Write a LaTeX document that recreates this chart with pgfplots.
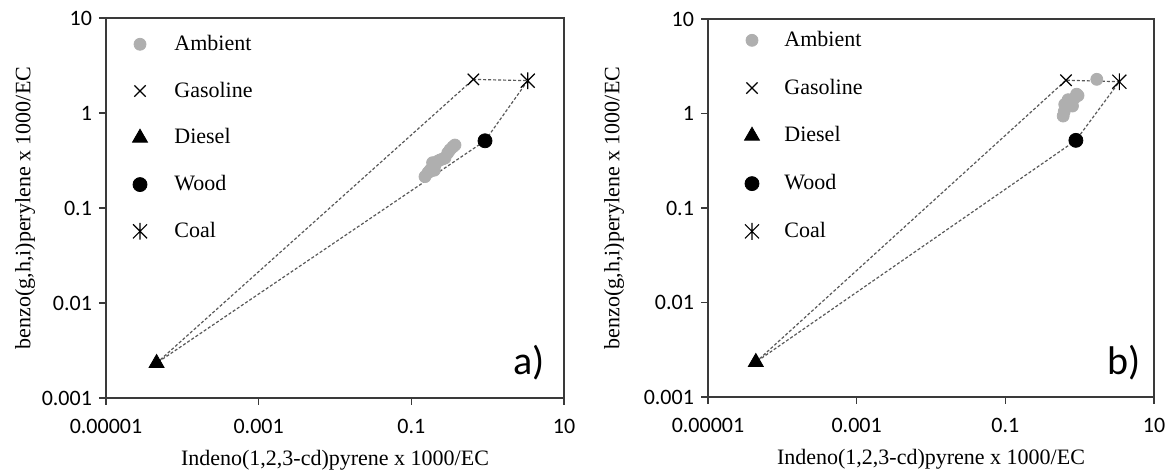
\documentclass[border=0pt]{standalone}
\usepackage{fontspec}
\setmainfont{Liberation Serif}
\newfontfamily\calib{Carlito}
\usepackage{pgfplots}
\pgfplotsset{compat=1.18}

% coal marker: an x with a vertical bar through it
\pgfdeclareplotmark{coalx}{%
  \pgfpathmoveto{\pgfqpoint{-\pgfplotmarksize}{-\pgfplotmarksize}}%
  \pgfpathlineto{\pgfqpoint{\pgfplotmarksize}{\pgfplotmarksize}}%
  \pgfpathmoveto{\pgfqpoint{-\pgfplotmarksize}{\pgfplotmarksize}}%
  \pgfpathlineto{\pgfqpoint{\pgfplotmarksize}{-\pgfplotmarksize}}%
  \pgfpathmoveto{\pgfqpoint{0pt}{-1.2\pgfplotmarksize}}%
  \pgfpathlineto{\pgfqpoint{0pt}{1.2\pgfplotmarksize}}%
  \pgfusepathqstroke}

\definecolor{ambgray}{HTML}{AFAFAF}
\definecolor{framegray}{HTML}{3A3A3A}

\begin{document}
\begin{tikzpicture}
\useasboundingbox (-53pt,-36.5pt) rectangle (531pt,199pt);

% panel a
\begin{axis}[
  xmode=log, ymode=log, scale only axis,
  width=229pt, height=190pt, at={(0pt,0pt)}, anchor=south west,
  xmin=1e-5, xmax=10, ymin=1e-3, ymax=10,
  xtick={1e-5,1e-3,1e-1,10}, xticklabels={0.00001,0.001,0.1,10},
  ytick={1e-3,1e-2,1e-1,1,10}, yticklabels={0.001,0.01,0.1,1,10},
  xminorticks=false, yminorticks=false,
  tick align=outside, major tick length=3.5pt, tick pos=left,
  axis line style={framegray, line width=0.8pt},
  major tick style={framegray, line width=0.8pt},
  tick label style={font=\calib\fontsize{11}{13}\selectfont},
  xticklabel style={yshift=-3.5pt},
  xlabel style={font=\fontsize{11}{13}\selectfont, yshift=-1.5pt},
  ylabel style={font=\fontsize{11}{13}\selectfont, yshift=-3.5pt},
  xlabel={Indeno(1,2,3-cd)pyrene x 1000/EC},
  ylabel={benzo(g,h,i)perylene x 1000/EC},
  legend style={draw=none, fill=none, at={(0.0376,0.977)},
    anchor=north west, font=\fontsize{11}{13}\selectfont, row sep=10.25pt},
  legend image code/.code={\path (-5pt,0pt) (15pt,0pt); \draw[#1] plot coordinates {(0pt,0pt)};},
  legend cell align=left,
  clip=false,
]
\addplot[black!65, line width=0.6pt, dash pattern=on 1.5pt off 1pt, forget plot] coordinates {(4.6e-5,2.33e-3) (0.649,2.26) (3.35,2.19) (0.923,0.51) (4.6e-5,2.33e-3)};
\addplot[only marks, mark=*, mark size=3pt, ambgray] coordinates {
(0.151,0.214) (0.165,0.235) (0.176,0.25) (0.19,0.27) (0.204,0.282) (0.19,0.30)
(0.2,0.25) (0.22,0.31) (0.237,0.32) (0.26,0.33) (0.276,0.336) (0.30,0.38)
(0.321,0.41) (0.35,0.44) (0.373,0.46)};
\addlegendentry{Ambient}
\addplot[only marks, mark=x, mark size=4pt, black, mark options={line width=0.6pt}] coordinates {(0.649,2.26)};
\addlegendentry{Gasoline}
\addplot[only marks, mark=triangle*, mark size=4.3pt, black] coordinates {(4.6e-5,2.33e-3)};
\addlegendentry{Diesel}
\addplot[only marks, mark=*, mark size=3.5pt, black] coordinates {(0.923,0.51)};
\addlegendentry{Wood}
\addplot[only marks, mark=coalx, mark size=3.5pt, black, mark options={line width=0.6pt}] coordinates {(3.35,2.19)};
\addlegendentry{Coal}
\node[font=\calib\fontsize{20}{24}\selectfont] at (rel axis cs:0.924,0.092) {a)};
\end{axis}

% panel b
\begin{axis}[
  xmode=log, ymode=log, scale only axis,
  width=223pt, height=189pt, at={(301pt,0.5pt)}, anchor=south west,
  xmin=1e-5, xmax=10, ymin=1e-3, ymax=10,
  xtick={1e-5,1e-3,1e-1,10}, xticklabels={0.00001,0.001,0.1,10},
  ytick={1e-3,1e-2,1e-1,1,10}, yticklabels={0.001,0.01,0.1,1,10},
  xminorticks=false, yminorticks=false,
  tick align=outside, major tick length=3.5pt, tick pos=left,
  axis line style={framegray, line width=0.8pt},
  major tick style={framegray, line width=0.8pt},
  tick label style={font=\calib\fontsize{11}{13}\selectfont},
  xticklabel style={yshift=-3.5pt},
  xlabel style={font=\fontsize{11}{13}\selectfont, yshift=-1.5pt},
  ylabel style={font=\fontsize{11}{13}\selectfont, yshift=3pt},
  xlabel={Indeno(1,2,3-cd)pyrene x 1000/EC},
  ylabel={benzo(g,h,i)perylene x 1000/EC},
  legend style={draw=none, fill=none, at={(0.061,0.99)},
    anchor=north west, font=\fontsize{11}{13}\selectfont, row sep=10.75pt},
  legend image code/.code={\path (-5pt,0pt) (14pt,0pt); \draw[#1] plot coordinates {(0pt,0pt)};},
  legend cell align=left,
  clip=false,
]
\addplot[black!65, line width=0.6pt, dash pattern=on 1.5pt off 1pt, forget plot] coordinates {(4.4e-5,2.34e-3) (0.655,2.25) (3.42,2.17) (0.89,0.52) (4.4e-5,2.34e-3)};
\addplot[only marks, mark=*, mark size=3pt, ambgray] coordinates {
(1.70,2.30) (0.91,1.60) (0.85,1.45) (0.78,1.36) (0.72,1.28) (0.67,1.20)
(0.60,0.94) (0.62,1.05) (0.80,1.20) (0.95,1.55) (0.70,1.40) (0.63,1.25)};
\addlegendentry{Ambient}
\addplot[only marks, mark=x, mark size=4pt, black, mark options={line width=0.6pt}] coordinates {(0.655,2.25)};
\addlegendentry{Gasoline}
\addplot[only marks, mark=triangle*, mark size=4.3pt, black] coordinates {(4.4e-5,2.34e-3)};
\addlegendentry{Diesel}
\addplot[only marks, mark=*, mark size=3.5pt, black] coordinates {(0.89,0.52)};
\addlegendentry{Wood}
\addplot[only marks, mark=coalx, mark size=3.5pt, black, mark options={line width=0.6pt}] coordinates {(3.42,2.17)};
\addlegendentry{Coal}
\node[font=\calib\fontsize{20}{24}\selectfont] at (rel axis cs:0.933,0.09) {b)};
\end{axis}
\end{tikzpicture}
\end{document}
